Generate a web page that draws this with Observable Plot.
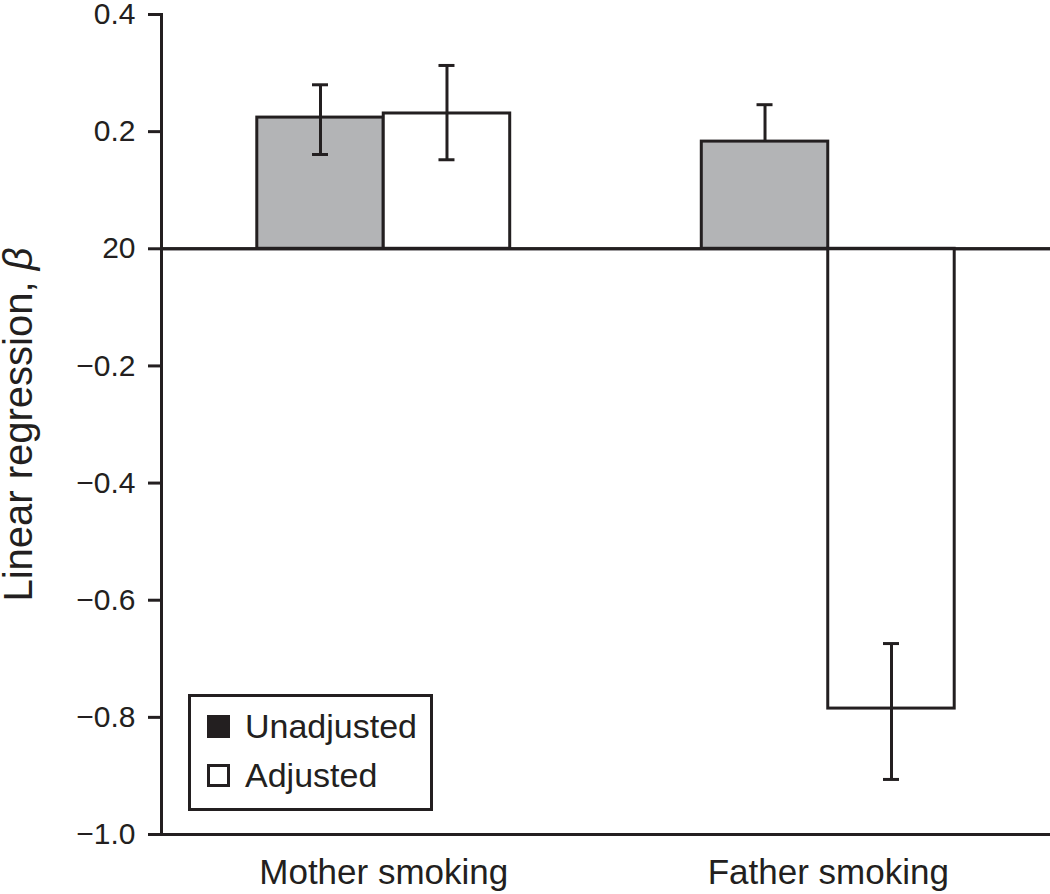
<!DOCTYPE html>
<html>
<head>
<meta charset="utf-8">
<script src="https://cdn.jsdelivr.net/npm/d3@7"></script>
<script src="https://cdn.jsdelivr.net/npm/@observablehq/plot@0.6"></script>
<style>
  html, body { margin: 0; padding: 0; background: #fff; }
  #wrap { position: relative; width: 1050px; height: 894px; font-family: "Liberation Sans", Arial, sans-serif; color: #231f20; }
  #legend { position: absolute; left: 188px; top: 694px; width: 245px; height: 117px; box-sizing: border-box;
            border: 3px solid #231f20; background: #fff; }
  .row { position: absolute; left: 16px; height: 40px; display: flex; align-items: center; font-size: 34px; }
  .sw { width: 23px; height: 23px; box-sizing: border-box; border: 3px solid #231f20; margin-right: 15px; }
</style>
</head>
<body>
<div id="wrap"></div>
<script>
// ---- data ----
const categories = ["Mother smoking", "Father smoking"];
const seriesNames = ["Unadjusted", "Adjusted"];
const unadjusted = [0.224, 0.183];
const unadjustedLow = [0.161, null];
const unadjustedHigh = [0.280, 0.246];
const adjusted = [0.231, -0.785];
const adjustedLow = [0.152, -0.906];
const adjustedHigh = [0.313, -0.674];
const yTicks = [-1.0, -0.8, -0.6, -0.4, -0.2, 0, 0.2, 0.4];
const yTickLabels = ["\u22121.0", "\u22120.8", "\u22120.6", "\u22120.4", "\u22120.2", "20", "0.2", "0.4"];
const yLabel = "Linear regression, \u03b2";

// ---- layout ----
const W = 1050, H = 894, ML = 161, MR = 0, MT = 14, MB = 60;
const PI = 0.431, PO = 0.2155;
const step = (W - ML - MR) / (categories.length - PI + 2 * PO);
const bw = step * (1 - PI);
const ink = "#231f20";
const grey = "#b3b4b6";
const cap = 8;

const unadjRows = categories.map((c, i) => ({category: c, value: unadjusted[i], lo: unadjustedLow[i], hi: unadjustedHigh[i]}));
const adjRows = categories.map((c, i) => ({category: c, value: adjusted[i], lo: adjustedLow[i], hi: adjustedHigh[i]}));

const chart = Plot.plot({
  width: W, height: H,
  marginLeft: ML, marginRight: MR, marginTop: MT, marginBottom: MB,
  style: {fontFamily: "'Liberation Sans', Arial, sans-serif", color: ink, background: "transparent", overflow: "visible"},
  x: {type: "band", domain: categories, paddingInner: PI, paddingOuter: PO, round: false},
  y: {domain: [yTicks[0], yTicks[yTicks.length - 1]]},
  marks: [
    Plot.ruleY([0], {stroke: ink, strokeWidth: 3}),
    Plot.ruleY([yTicks[0]], {stroke: ink, strokeWidth: 3}),
    Plot.barY(unadjRows, {x: "category", y: "value", fill: grey, stroke: ink, strokeWidth: 3, insetRight: bw / 2}),
    Plot.barY(adjRows, {x: "category", y: "value", fill: "white", stroke: ink, strokeWidth: 3, insetLeft: bw / 2}),
    Plot.ruleY([0], {stroke: ink, strokeWidth: 3}),
    // error bars
    Plot.ruleX(unadjRows, {x: "category", y1: d => d.lo ?? d.value, y2: "hi", dx: -bw / 4, stroke: ink, strokeWidth: 3}),
    Plot.ruleX(adjRows, {x: "category", y1: "lo", y2: "hi", dx: bw / 4, stroke: ink, strokeWidth: 3}),
    Plot.tickY(unadjRows, {x: "category", y: "hi", insetLeft: bw / 4 - cap, insetRight: 3 * bw / 4 - cap, stroke: ink, strokeWidth: 3}),
    Plot.tickY(unadjRows.filter(d => d.lo != null), {x: "category", y: "lo", insetLeft: bw / 4 - cap, insetRight: 3 * bw / 4 - cap, stroke: ink, strokeWidth: 3}),
    Plot.tickY(adjRows, {x: "category", y: "hi", insetLeft: 3 * bw / 4 - cap, insetRight: bw / 4 - cap, stroke: ink, strokeWidth: 3}),
    Plot.tickY(adjRows, {x: "category", y: "lo", insetLeft: 3 * bw / 4 - cap, insetRight: bw / 4 - cap, stroke: ink, strokeWidth: 3}),
    Plot.frame({anchor: "left", stroke: ink, strokeWidth: 3}),
    Plot.axisY({ticks: yTicks, tickFormat: (d, i) => yTickLabels[i], tickSize: 13, tickPadding: 13, strokeWidth: 3, stroke: ink, fill: ink,
                fontSize: 30, label: yLabel, labelAnchor: "center", labelArrow: "none", labelOffset: 158}),
    Plot.axisX({tickSize: 0, tickPadding: 25, fontSize: 35, fill: ink, label: null})
  ]
});

const wrap = document.getElementById("wrap");
wrap.appendChild(chart);

// y label: italic beta, larger font
chart.querySelectorAll("text").forEach(t => {
  if (t.textContent === yLabel) {
    t.setAttribute("font-size", 40);
    t.textContent = "";
    const a = document.createElementNS("http://www.w3.org/2000/svg", "tspan");
    a.textContent = "Linear regression, ";
    const b = document.createElementNS("http://www.w3.org/2000/svg", "tspan");
    b.textContent = "\u03b2";
    b.setAttribute("font-style", "italic");
    t.appendChild(a); t.appendChild(b);
  }
});

// legend
const legend = document.createElement("div");
legend.id = "legend";
[[seriesNames[0], ink, 9], [seriesNames[1], "#fff", 58]].forEach(([name, fill, top]) => {
  const row = document.createElement("div");
  row.className = "row";
  row.style.top = top + "px";
  const sw = document.createElement("div");
  sw.className = "sw";
  sw.style.background = fill;
  row.appendChild(sw);
  const tx = document.createElement("span");
  tx.textContent = name;
  row.appendChild(tx);
  legend.appendChild(row);
});
wrap.appendChild(legend);
</script>
</body>
</html>
